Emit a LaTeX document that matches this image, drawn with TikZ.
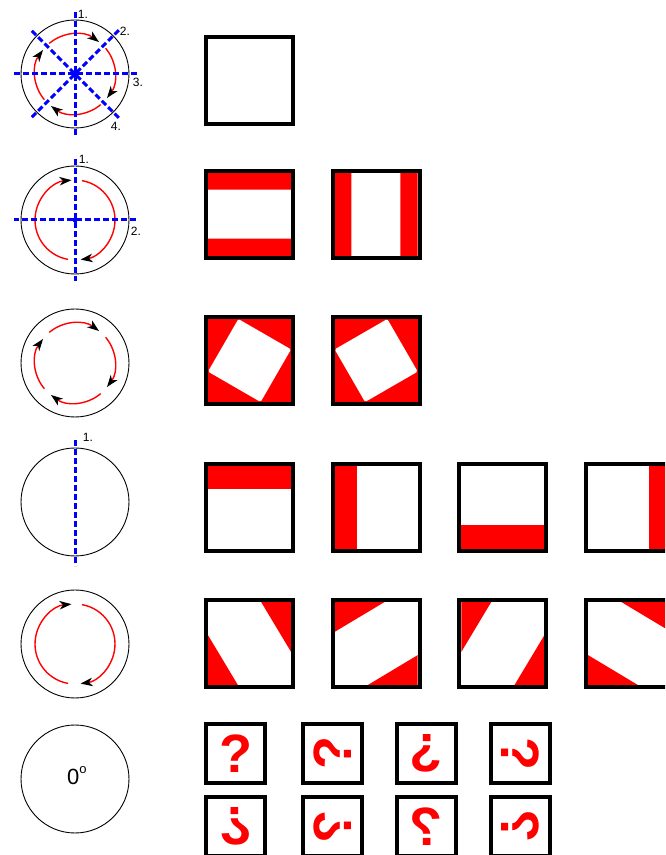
\documentclass[tikz,border=0pt]{standalone}
\usepackage{fontspec}
\setmainfont{Liberation Sans}
\usetikzlibrary{arrows.meta}
\definecolor{hred}{RGB}{255,0,0}
\definecolor{hblue}{RGB}{0,0,255}

\begin{document}
\begin{tikzpicture}[x=1pt, y=1pt,
    rim/.style={draw=black, line width=0.9pt},
    symline/.style={draw=hblue, line width=3pt, dash pattern=on 6pt off 3pt},
    spin/.style={draw=hred, line width=1.4pt, -{Stealth[color=black, length=12pt, width=8.5pt, inset=3.5pt]}},
    sqframe/.style={draw=black, line width=4pt},
    lbl/.style={inner sep=0pt, font=\fontsize{12}{14}\selectfont},
    qmark/.style={inner sep=0pt, text=hred, font=\fontsize{54}{54}\selectfont\bfseries}]
  \useasboundingbox (0,0) rectangle (665,855);
  \clip (0,0) rectangle (665,855);
  % left column: circles
  \foreach \cy in {781,635,492,353,211,76}
    \draw[rim] (75,\cy) circle[radius=54];
  \begin{scope}[shift={(75,781)}]
    \foreach \k in {0,...,3}
      \draw[spin] (130-90*\k:40) arc[start angle=130-90*\k, end angle=53-90*\k, radius=40];
    \foreach \a in {90,45,0,-45}
      \draw[symline] (\a:62) -- (\a+180:62);
    \fill[hblue] (0,0) circle[radius=2.5];
    \node[lbl] (a1) at (8,60) {1.};
    \node[lbl] (a2) at (50,43) {2.};
    \node[lbl] (a3) at (63,-8) {3.};
    \node[lbl] (a4) at (41,-52) {4.};
  \end{scope}
  \begin{scope}[shift={(75,635)}]
    \draw[spin] (-100:40) arc[start angle=-100, end angle=-265, radius=40];
    \draw[spin] (80:40) arc[start angle=80, end angle=-82, radius=40];
    \foreach \a in {90,0}
      \draw[symline] (\a:61) -- (\a+180:61);
    \fill[hblue] (0,0) circle[radius=2.5];
    \node[lbl] (b1) at (9,61) {1.};
    \node[lbl] (b2) at (61,-11) {2.};
  \end{scope}
  \begin{scope}[shift={(75,492)}]
    \foreach \k in {0,...,3}
      \draw[spin] (130-90*\k:40) arc[start angle=130-90*\k, end angle=53-90*\k, radius=40];
  \end{scope}
  \begin{scope}[shift={(75,353)}]
    \draw[symline] (0,62) -- (0,-64);
    \node[lbl] (c1) at (13,65) {1.};
  \end{scope}
  \begin{scope}[shift={(75,211)}]
    \draw[spin] (-100:40) arc[start angle=-100, end angle=-265, radius=40];
    \draw[spin] (80:40) arc[start angle=80, end angle=-82, radius=40];
  \end{scope}
  \node[inner sep=0pt, anchor=base west, font=\fontsize{22}{26}\selectfont] (deg) at (67,70)
    {0\raisebox{12pt}{\fontsize{13}{13}\selectfont o}};
  % row 2
  \begin{scope}[shift={(208,599)}, scale=83]
    \fill[hred] (0,0.8) rectangle (1,1) (0,0) rectangle (1,0.21);
  \end{scope}
  \begin{scope}[shift={(334.7,599)}, scale=83]
    \fill[hred] (0,0) rectangle (0.2,1) (0.79,0) rectangle (1,1);
  \end{scope}
  % row 3
  \begin{scope}[shift={(208,453)}, scale=83]
    \fill[hred] (0,0) rectangle (1,1);
    \fill[white, rounded corners=1.5pt] (0.366,1) -- (1,0.634) -- (0.634,0) -- (0,0.366) -- cycle;
  \end{scope}
  \begin{scope}[shift={(334.7,453)}, scale=83]
    \fill[hred] (0,0) rectangle (1,1);
    \fill[white, rounded corners=1.5pt] (0.634,1) -- (0,0.634) -- (0.366,0) -- (1,0.366) -- cycle;
  \end{scope}
  % row 4
  \begin{scope}[shift={(208,306)}, scale=83]
    \fill[hred] (0,0.72) rectangle (1,1);
  \end{scope}
  \begin{scope}[shift={(334.7,306)}, scale=83]
    \fill[hred] (0,0) rectangle (0.27,1);
  \end{scope}
  \begin{scope}[shift={(461.4,306)}, scale=83]
    \fill[hred] (0,0) rectangle (1,0.29);
  \end{scope}
  \begin{scope}[shift={(588.1,306)}, scale=83]
    \fill[hred] (0.73,0) rectangle (1,1);
  \end{scope}
  % row 5
  \begin{scope}[shift={(208,170)}, scale=83]
    \fill[hred] (0.64,1) -- (1,1) -- (1,0.4) -- cycle (0,0.6) -- (0,0) -- (0.36,0) -- cycle;
  \end{scope}
  \begin{scope}[shift={(334.7,170)}, scale=83]
    \fill[hred] (0,1) -- (0.6,1) -- (0,0.64) -- cycle (1,0.36) -- (1,0) -- (0.4,0) -- cycle;
  \end{scope}
  \begin{scope}[shift={(461.4,170)}, scale=83]
    \fill[hred] (0,1) -- (0.36,1) -- (0,0.4) -- cycle (1,0.6) -- (1,0) -- (0.64,0) -- cycle;
  \end{scope}
  \begin{scope}[shift={(588.1,170)}, scale=83]
    \fill[hred] (0.4,1) -- (1,1) -- (1,0.64) -- cycle (0,0.36) -- (0,0) -- (0.6,0) -- cycle;
  \end{scope}
  % frames of the big squares
  \draw[sqframe] (206,731) rectangle ++(87,87);
  \foreach \k in {0,1} {
    \draw[sqframe] (206+126.7*\k,597) rectangle ++(87,87);
    \draw[sqframe] (206+126.7*\k,451) rectangle ++(87,87);
  }
  \foreach \k in {0,...,3} {
    \draw[sqframe] (206+126.7*\k,304) rectangle ++(87,87);
    \draw[sqframe] (206+126.7*\k,168) rectangle ++(87,87);
  }
  % row 6: question marks
  \foreach \x/\r [count=\i] in {235.5/0, 332.5/90, 426.5/180, 520.5/-90} {
    \draw[sqframe] (\x-29.5,72) rectangle ++(59,59);
    \node[qmark, rotate=\r] (q\i) at (\x,101.5) {?};
    \draw[sqframe] (\x-29.5,-1) rectangle ++(59,59);
    \node[qmark, yscale=-1, rotate=\r] (p\i) at (\x,28.5) {?};
  }
\end{tikzpicture}
\end{document}
